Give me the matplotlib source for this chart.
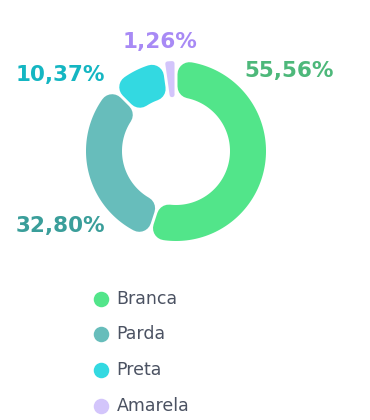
import numpy as np
import matplotlib
matplotlib.use("Agg")
import matplotlib.pyplot as plt
from matplotlib.patches import Polygon

categories = ["Branca", "Parda", "Preta", "Amarela"]
values = [55.56, 32.80, 10.37, 1.26]
labels = ["55,56%", "32,80%", "10,37%", "1,26%"]
colors = ["#52E58A", "#67BDBB", "#33D9E1", "#D3C5FB"]
label_colors = ["#4DB87A", "#3A9E9A", "#14B6C2", "#A88AF5"]

W, H, DPI = 370, 420, 100
fig = plt.figure(figsize=(W / DPI, H / DPI), dpi=DPI)
ax = fig.add_axes([0, 0, 1, 1])
ax.set_xlim(0, W)
ax.set_ylim(H, 0)
ax.axis("off")
PT = 72.0 / DPI  # points per pixel

cx, cy = 176, 151
r_in, r_out = 54, 90
rc_max = 12
gap = 3
min_angle = 8.0

vals = np.array(values, dtype=float)
ang = vals / vals.sum() * 360
small = ang < min_angle
rest = 360 - min_angle * small.sum()
ang = np.where(small, min_angle, vals / vals[~small].sum() * rest)
starts = np.concatenate([[0], np.cumsum(ang)[:-1]])


def pt(theta_deg, r):
    t = np.radians(theta_deg)
    return cx + r * np.sin(t), cy - r * np.cos(t)


for a0, da, col in zip(starts, ang, colors):
    a1 = a0 + da
    avail = r_in * np.sin(np.radians(da / 2)) - gap / 2
    rc = max(0.8, min(rc_max, (r_out - r_in) / 2 - 0.5, avail))
    d = gap / 2 + rc
    ro, ri = r_out - rc, r_in + rc
    pts = []
    for rr, rev in ((ro, False), (ri, True)):
        off = np.degrees(np.arcsin(min(d / rr, 1)))
        b0, b1 = a0 + off, a1 - off
        if b1 < b0:
            b0 = b1 = (a0 + a1) / 2
        th = np.linspace(b0, b1, 120)
        if rev:
            th = th[::-1]
        pts.extend([pt(t, rr) for t in th])
    poly = Polygon(pts, closed=True, facecolor=col, edgecolor=col,
                   linewidth=2 * rc * PT, joinstyle="round")
    ax.add_patch(poly)

label_pos = [(289, 71), (60, 226), (60, 74.5), (160, 42)]
for (x, y), txt, c in zip(label_pos, labels, label_colors):
    ax.text(x, y, txt, color=c, fontsize=15.5, fontweight="bold",
            family="DejaVu Sans", ha="center", va="center")

for i, (cat, col) in enumerate(zip(categories, colors)):
    y = 298.5 + i * 35.8
    ax.scatter([101], [y], s=(15.5 * PT) ** 2, color=col, linewidths=0)
    ax.text(116.5, y, cat, color="#4B5262", fontsize=12.5, family="DejaVu Sans",
            ha="left", va="center")

fig.savefig("out.png", dpi=DPI)
